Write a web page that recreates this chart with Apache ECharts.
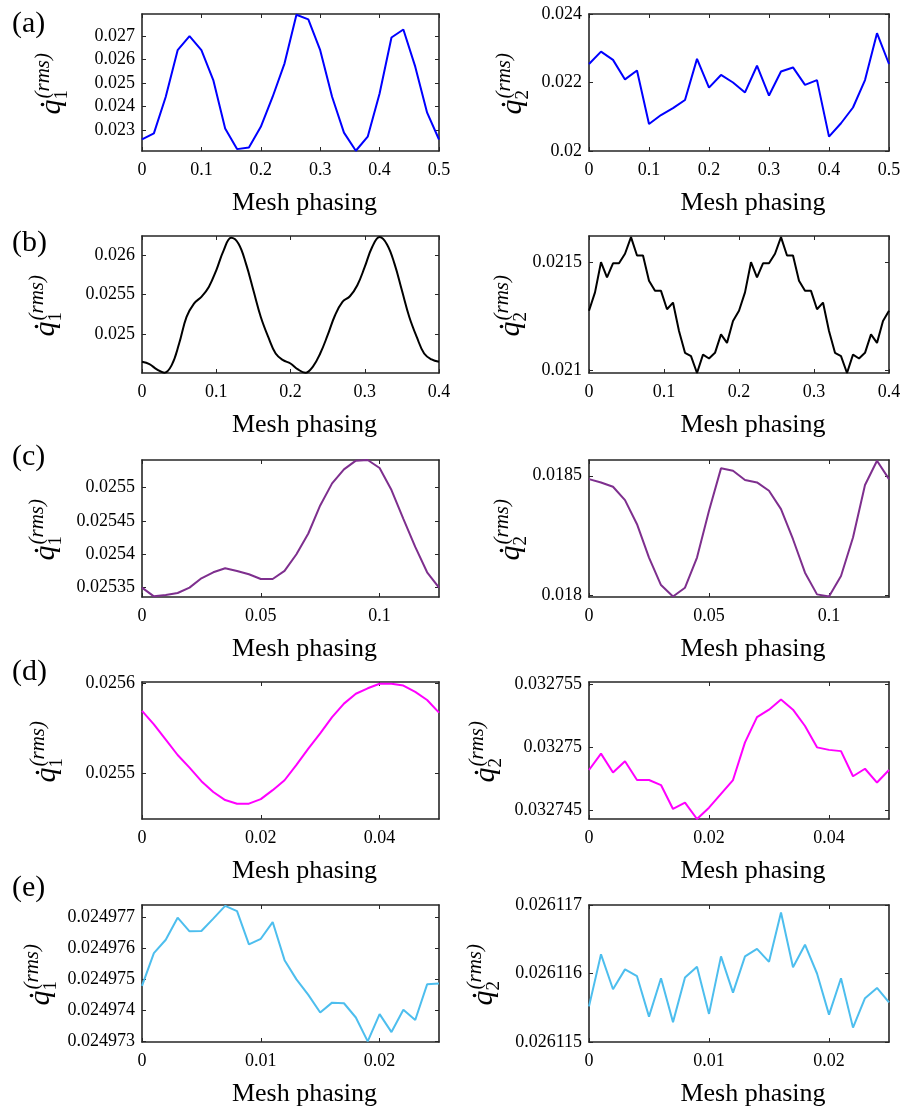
<!DOCTYPE html>
<html>
<head>
<meta charset="utf-8">
<script src="https://cdn.jsdelivr.net/npm/echarts@6/dist/echarts.min.js"></script>
<style>
  html, body { margin: 0; padding: 0; background: #fff; }
  #chart { width: 918px; height: 1108px; }
</style>
</head>
<body>
<div id="chart"></div>
<script>
// mesh phasing values (x) for each row
const phaseA = [0, 0.02, 0.04, 0.06, 0.08, 0.1, 0.12, 0.14, 0.16, 0.18, 0.2, 0.22, 0.24, 0.26, 0.28, 0.3, 0.32, 0.34, 0.36, 0.38, 0.4, 0.42, 0.44, 0.46, 0.48, 0.5]
const phaseB1 = [0, 0.01, 0.02, 0.03, 0.04, 0.05, 0.06, 0.07, 0.08, 0.09, 0.1, 0.11, 0.12, 0.13, 0.14, 0.15, 0.16, 0.17, 0.18, 0.19, 0.2,
  0.21, 0.22, 0.23, 0.24, 0.25, 0.26, 0.27, 0.28, 0.29, 0.3, 0.31, 0.32, 0.33, 0.34, 0.35, 0.36, 0.37, 0.38, 0.39, 0.4]
const phaseB2 = [0, 0.008, 0.016, 0.024, 0.032, 0.04, 0.048, 0.056, 0.064, 0.072, 0.08, 0.088, 0.096, 0.104, 0.112, 0.12, 0.128,
  0.136, 0.144, 0.152, 0.16, 0.168, 0.176, 0.184, 0.192, 0.2, 0.208, 0.216, 0.224, 0.232, 0.24, 0.248, 0.256, 0.264, 0.272, 0.28,
  0.288, 0.296, 0.304, 0.312, 0.32, 0.328, 0.336, 0.344, 0.352, 0.36, 0.368, 0.376, 0.384, 0.392, 0.4]
const phaseC = [0, 0.005, 0.01, 0.015, 0.02, 0.025, 0.03, 0.035, 0.04, 0.045, 0.05, 0.055, 0.06, 0.065, 0.07, 0.075, 0.08, 0.085, 0.09, 0.095, 0.1, 0.105, 0.11, 0.115, 0.12, 0.125]
const phaseD = [0, 0.002, 0.004, 0.006, 0.008, 0.01, 0.012, 0.014, 0.016, 0.018, 0.02, 0.022, 0.024, 0.026, 0.028, 0.03, 0.032, 0.034, 0.036, 0.038, 0.04, 0.042, 0.044, 0.046, 0.048, 0.05]
const phaseE = [0, 0.001, 0.002, 0.003, 0.004, 0.005, 0.006, 0.007, 0.008, 0.009, 0.01, 0.011, 0.012, 0.013, 0.014, 0.015, 0.016, 0.017, 0.018, 0.019, 0.02, 0.021, 0.022, 0.023, 0.024, 0.025]

// rms velocities, q1 (left column) and q2 (right column)
const q1A = [0.02260, 0.02286, 0.02442, 0.02640, 0.02700, 0.02640, 0.02513, 0.02307, 0.02219, 0.02226, 0.02314, 0.02442, 0.02584,
  0.02791, 0.02771, 0.02640, 0.02442, 0.02289, 0.02212, 0.02272, 0.02456, 0.02694, 0.02728, 0.02570, 0.02374, 0.02260]
const q2A = [0.02254, 0.02290, 0.02266, 0.02209, 0.02235, 0.02079, 0.02105, 0.02125, 0.02149, 0.02269, 0.02185, 0.02222, 0.02200,
  0.02171, 0.02249, 0.02162, 0.02232, 0.02244, 0.02193, 0.02207, 0.02042, 0.02081, 0.02127, 0.02207, 0.02344, 0.02254]
const q1B = [0.024651, 0.024622, 0.024555, 0.024513, 0.024609, 0.024882, 0.025218, 0.025387, 0.025471, 0.025597, 0.025807,
  0.026059, 0.026218, 0.026143, 0.025891, 0.025555, 0.025218, 0.024966, 0.024756, 0.024672, 0.024630,
  0.024555, 0.024513, 0.024588, 0.024756, 0.024987, 0.025239, 0.025408, 0.025479, 0.025618, 0.025849,
  0.026101, 0.026227, 0.026134, 0.025891, 0.025555, 0.025218, 0.024966, 0.024756, 0.024681, 0.024651]
const q2B = [0.021276, 0.021361, 0.021500, 0.021430, 0.021495, 0.021495, 0.021539, 0.021616, 0.021531, 0.021531, 0.021415,
  0.021368, 0.021368, 0.021283, 0.021314, 0.021183, 0.021082, 0.021067, 0.020989, 0.021074, 0.021056, 0.021082, 0.021167,
  0.021128, 0.021229, 0.021276, 0.021361, 0.021500, 0.021430, 0.021495, 0.021495, 0.021539, 0.021616, 0.021531, 0.021531,
  0.021415, 0.021368, 0.021368, 0.021283, 0.021314, 0.021183, 0.021082, 0.021067, 0.020989, 0.021074, 0.021056, 0.021082,
  0.021167, 0.021128, 0.021229, 0.021276]
const q1C = [0.025350, 0.025337, 0.025339, 0.025342, 0.025350, 0.025364, 0.025373, 0.025379, 0.025375, 0.025370, 0.025363,
  0.025363, 0.025375, 0.025400, 0.025431, 0.025473, 0.025506, 0.025527, 0.025540, 0.025541, 0.025529, 0.025496, 0.025453,
  0.025411, 0.025373, 0.025350]
const q2C = [0.018486, 0.018472, 0.018454, 0.018398, 0.018297, 0.018157, 0.018042, 0.017994, 0.018031, 0.018157, 0.018353,
  0.018531, 0.018521, 0.018482, 0.018472, 0.018437, 0.018360, 0.018234, 0.018094, 0.018003, 0.017994, 0.018080, 0.018241,
  0.018461, 0.018563, 0.018486]
const q1D = [0.025569, 0.025554, 0.025537, 0.025520, 0.025506, 0.025491, 0.025479, 0.025470, 0.025466, 0.025466, 0.025471,
  0.025481, 0.025492, 0.025509, 0.025527, 0.025544, 0.025562, 0.025577, 0.025588, 0.025594, 0.025599, 0.025599, 0.025597,
  0.025590, 0.025581, 0.025567]
const q2D = [0.0327482, 0.0327495, 0.0327480, 0.0327489, 0.0327474, 0.0327474, 0.0327470, 0.0327451, 0.0327456, 0.0327443,
  0.0327452, 0.0327463, 0.0327474, 0.0327504, 0.0327524, 0.0327530, 0.0327538, 0.0327530, 0.0327517, 0.0327500, 0.0327498,
  0.0327497, 0.0327477, 0.0327483, 0.0327472, 0.0327482]
const q1E = [0.02497478, 0.02497584, 0.02497627, 0.02497698, 0.02497654, 0.02497655, 0.02497695, 0.02497736, 0.02497719,
  0.02497612, 0.02497630, 0.02497684, 0.02497561, 0.02497499, 0.02497449, 0.02497392, 0.02497424, 0.02497422, 0.02497376,
  0.02497299, 0.02497387, 0.02497329, 0.02497401, 0.02497368, 0.02497483, 0.02497486]
const q2E = [0.02611552, 0.02611628, 0.02611577, 0.02611606, 0.02611596, 0.02611537, 0.02611593, 0.02611529, 0.02611594,
  0.02611610, 0.02611541, 0.02611625, 0.02611572, 0.02611625, 0.02611636, 0.02611617, 0.02611689, 0.02611609, 0.02611642,
  0.02611600, 0.02611540, 0.02611593, 0.02611521, 0.02611564, 0.02611579, 0.02611558]

// tick labels
const xTicksA = [0, 0.1, 0.2, 0.3, 0.4, 0.5]
const xTicksB = [0, 0.1, 0.2, 0.3, 0.4]
const xTicksC = [0, 0.05, 0.1]
const xTicksD = [0, 0.02, 0.04]
const xTicksE = [0, 0.01, 0.02]
const yTicksA1 = [0.023, 0.024, 0.025, 0.026, 0.027]
const yTicksA2 = [0.02, 0.022, 0.024]
const yTicksB1 = [0.025, 0.0255, 0.026]
const yTicksB2 = [0.021, 0.0215]
const yTicksC1 = [0.02535, 0.0254, 0.02545, 0.0255]
const yTicksC2 = [0.018, 0.0185]
const yTicksD1 = [0.0255, 0.0256]
const yTicksD2 = [0.032745, 0.03275, 0.032755]
const yTicksE1 = [0.024973, 0.024974, 0.024975, 0.024976, 0.024977]
const yTicksE2 = [0.026115, 0.026116, 0.026117]

const rowLetters = ['(a)', '(b)', '(c)', '(d)', '(e)']
const lineColors = ['#0000ff', '#000000', '#7e2f8e', '#ff00ff', '#4dbeee']

// panel setup: row, column, data, axis ranges
const panels = [
  { row: 0, col: 0, x: phaseA, y: q1A, xMax: 0.5, xTicks: xTicksA, yTicks: yTicksA1, yMin: 0.02211, yMax: 0.02794, labelX: 62 },
  { row: 0, col: 1, x: phaseA, y: q2A, xMax: 0.5, xTicks: xTicksA, yTicks: yTicksA2, yMin: 0.020, yMax: 0.024, labelX: 523 },
  { row: 1, col: 0, x: phaseB1, y: q1B, xMax: 0.4, xTicks: xTicksB, yTicks: yTicksB1, yMin: 0.02451, yMax: 0.02624, labelX: 56, smooth: 0.4 },
  { row: 1, col: 1, x: phaseB2, y: q2B, xMax: 0.4, xTicks: xTicksB, yTicks: yTicksB2, yMin: 0.020989, yMax: 0.021621, labelX: 521 },
  { row: 2, col: 0, x: phaseC, y: q1C, xMax: 0.125, xTicks: xTicksC, yTicks: yTicksC1, yMin: 0.025336, yMax: 0.025541, labelX: 56 },
  { row: 2, col: 1, x: phaseC, y: q2C, xMax: 0.125, xTicks: xTicksC, yTicks: yTicksC2, yMin: 0.017992, yMax: 0.018566, labelX: 521 },
  { row: 3, col: 0, x: phaseD, y: q1D, xMax: 0.05, xTicks: xTicksD, yTicks: yTicksD1, yMin: 0.025449, yMax: 0.025601, labelX: 57 },
  { row: 3, col: 1, x: phaseD, y: q2D, xMax: 0.05, xTicks: xTicksD, yTicks: yTicksD2, yMin: 0.0327443, yMax: 0.0327552, labelX: 496 },
  { row: 4, col: 0, x: phaseE, y: q1E, xMax: 0.025, xTicks: xTicksE, yTicks: yTicksE1, yMin: 0.02497297, yMax: 0.02497739, labelX: 51 },
  { row: 4, col: 1, x: phaseE, y: q2E, xMax: 0.025, xTicks: xTicksE, yTicks: yTicksE2, yMin: 0.026115, yMax: 0.026117, labelX: 494 }
]

// layout in px
const colLeft = [142, 589]
const colWidth = [297, 300]
const rowTop = [14, 236, 460, 682, 905]
const boxHeight = 137
const letterY = [24, 243, 457, 672, 888]

const FONT = '"Liberation Serif", "Times New Roman", serif'
const AXIS_COLOR = '#262626'

const fmt = v => String(parseFloat(v.toPrecision(6)))

const grids = []
const xAxes = []
const yAxes = []
const series = []
const graphics = []

function axisCommon(ticks) {
  return {
    axisLine: { show: true, onZero: false, lineStyle: { color: AXIS_COLOR, width: 1.6 } },
    axisTick: { show: true, inside: true, length: 4, customValues: ticks, lineStyle: { color: AXIS_COLOR, width: 1 } },
    splitLine: { show: false }
  }
}

panels.forEach((p, i) => {
  const left = colLeft[p.col]
  const top = rowTop[p.row]
  const width = colWidth[p.col]
  grids.push({ left: left, top: top, width: width, height: boxHeight, containLabel: false })

  // bottom x axis with labels
  xAxes.push(Object.assign(axisCommon(p.xTicks), {
    type: 'value', gridIndex: i, position: 'bottom', min: 0, max: p.xMax,
    axisLabel: { customValues: p.xTicks, formatter: fmt, fontSize: 18, fontFamily: FONT, color: '#000', margin: 10 },
    name: 'Mesh phasing', nameLocation: 'middle', nameGap: 39, nameMoveOverlap: false,
    nameTextStyle: { fontSize: 26, fontFamily: FONT, color: '#000', padding: [0, 0, 0, 28] }
  }))
  // top x axis, ticks only
  xAxes.push(Object.assign(axisCommon(p.xTicks), {
    type: 'value', gridIndex: i, position: 'top', min: 0, max: p.xMax,
    axisLabel: { show: false }
  }))
  // left y axis with labels
  yAxes.push(Object.assign(axisCommon(p.yTicks), {
    type: 'value', gridIndex: i, position: 'left', min: p.yMin, max: p.yMax,
    axisLabel: { customValues: p.yTicks, formatter: fmt, fontSize: 18, fontFamily: FONT, color: '#000', margin: 7 }
  }))
  // right y axis, ticks only
  yAxes.push(Object.assign(axisCommon(p.yTicks), {
    type: 'value', gridIndex: i, position: 'right', min: p.yMin, max: p.yMax,
    axisLabel: { show: false }
  }))

  series.push({
    type: 'line',
    xAxisIndex: 2 * i,
    yAxisIndex: 2 * i,
    data: p.x.map((v, k) => [v, p.y[k]]),
    showSymbol: false,
    smooth: p.smooth || false,
    lineStyle: { color: lineColors[p.row], width: 2 },
    itemStyle: { color: lineColors[p.row] },
    clip: true
  })

  // y axis label: q-dot with subscript and (rms) superscript, rotated
  const cy = top + boxHeight / 2
  graphics.push({
    type: 'group',
    x: p.labelX,
    y: cy + 32,
    rotation: Math.PI / 2,
    children: [
      { type: 'text', x: 0, y: -10, style: { text: 'q', font: 'italic 30px ' + FONT, fill: '#000', textAlign: 'left', textVerticalAlign: 'middle' } },
      { type: 'circle', shape: { cx: 10, cy: -19.5, r: 1.8 }, style: { fill: '#000' } },
      { type: 'text', x: 15, y: 0, style: { text: String(p.col + 1), font: '19px ' + FONT, fill: '#000', textAlign: 'left', textVerticalAlign: 'middle' } },
      { type: 'text', x: 16, y: -19, style: { text: '(rms)', font: 'italic 21px ' + FONT, fill: '#000', textAlign: 'left', textVerticalAlign: 'middle' } }
    ]
  })
})

rowLetters.forEach((t, r) => {
  graphics.push({
    type: 'text', x: 12, y: letterY[r],
    style: { text: t, font: '30px ' + FONT, fill: '#000', textAlign: 'left', textVerticalAlign: 'middle' }
  })
})

const chart = echarts.init(document.getElementById('chart'), null, { renderer: 'canvas' })
chart.setOption({
  backgroundColor: '#ffffff',
  animation: false,
  grid: grids,
  xAxis: xAxes,
  yAxis: yAxes,
  series: series,
  graphic: graphics
})
</script>
</body>
</html>
